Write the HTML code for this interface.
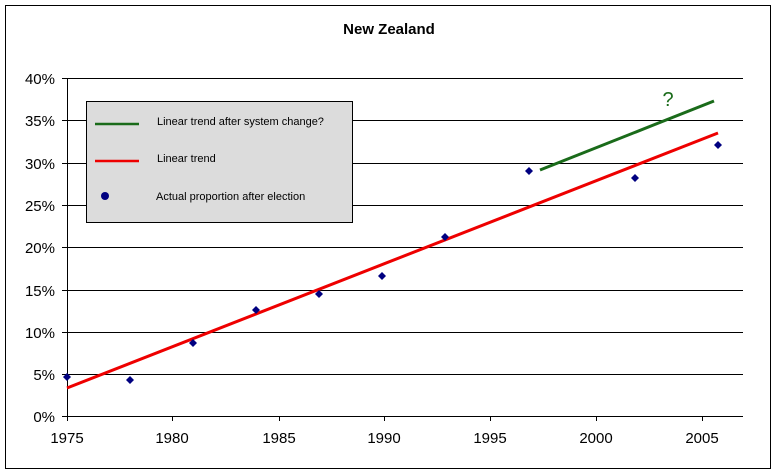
<!DOCTYPE html>
<html><head><style>body{margin:0;background:#fff}svg{display:block;font-family:"Liberation Sans",Arial,sans-serif}</style></head><body>
<svg width="779" height="475" viewBox="0 0 779 475">
<rect x="5.5" y="5.5" width="765" height="463" fill="#fff" stroke="#000"/>
<text x="389" y="34" text-anchor="middle" font-size="15" font-weight="bold">New Zealand</text>
<g stroke="#000" stroke-width="1">
<line x1="62" y1="78.5" x2="743" y2="78.5"/>
<line x1="62" y1="120.5" x2="743" y2="120.5"/>
<line x1="62" y1="163.5" x2="743" y2="163.5"/>
<line x1="62" y1="205.5" x2="743" y2="205.5"/>
<line x1="62" y1="247.5" x2="743" y2="247.5"/>
<line x1="62" y1="290.5" x2="743" y2="290.5"/>
<line x1="62" y1="332.5" x2="743" y2="332.5"/>
<line x1="62" y1="374.5" x2="743" y2="374.5"/>
<line x1="62" y1="416.5" x2="743" y2="416.5"/>
<line x1="67.5" y1="78" x2="67.5" y2="416"/>
<line x1="67.5" y1="416" x2="67.5" y2="421"/>
<line x1="172.5" y1="416" x2="172.5" y2="421"/>
<line x1="279.5" y1="416" x2="279.5" y2="421"/>
<line x1="384.5" y1="416" x2="384.5" y2="421"/>
<line x1="490.5" y1="416" x2="490.5" y2="421"/>
<line x1="596.5" y1="416" x2="596.5" y2="421"/>
<line x1="702.5" y1="416" x2="702.5" y2="421"/>
</g>
<g font-size="15" text-anchor="end">
<text x="55" y="84">40%</text><text x="55" y="126">35%</text><text x="55" y="169">30%</text><text x="55" y="211">25%</text><text x="55" y="253">20%</text><text x="55" y="296">15%</text><text x="55" y="338">10%</text><text x="55" y="380">5%</text><text x="55" y="422">0%</text>
</g>
<g font-size="15" text-anchor="middle">
<text x="67" y="443">1975</text><text x="172" y="443">1980</text><text x="279" y="443">1985</text><text x="384" y="443">1990</text><text x="490" y="443">1995</text><text x="596" y="443">2000</text><text x="702" y="443">2005</text>
</g>
<line x1="67" y1="388" x2="718" y2="133" stroke="#e00" stroke-width="3"/>
<line x1="540" y1="170" x2="714" y2="101" stroke="#1a6b1a" stroke-width="3"/>
<text x="668" y="106" font-size="20" fill="#1a6b1a" text-anchor="middle">?</text>
<g fill="#000080">
<path d="M67 373l4 4-4 4-4-4z"/>
<path d="M130 376l4 4-4 4-4-4z"/>
<path d="M193 339l4 4-4 4-4-4z"/>
<path d="M256 306l4 4-4 4-4-4z"/>
<path d="M319 290l4 4-4 4-4-4z"/>
<path d="M382 272l4 4-4 4-4-4z"/>
<path d="M445 233l4 4-4 4-4-4z"/>
<path d="M529 167l4 4-4 4-4-4z"/>
<path d="M635 174l4 4-4 4-4-4z"/>
<path d="M718 141l4 4-4 4-4-4z"/>
</g>
<rect x="86.5" y="101.5" width="266" height="121" fill="#dcdcdc" stroke="#000"/>
<line x1="95" y1="124" x2="139" y2="124" stroke="#1a6b1a" stroke-width="2.5"/>
<line x1="95" y1="161" x2="139" y2="161" stroke="#e00" stroke-width="2.5"/>
<circle cx="105" cy="196" r="4" fill="#000080"/>
<g font-size="11">
<text x="157" y="125">Linear trend after system change?</text>
<text x="157" y="162">Linear trend</text>
<text x="156" y="200">Actual proportion after election</text>
</g>
</svg>
</body></html>
